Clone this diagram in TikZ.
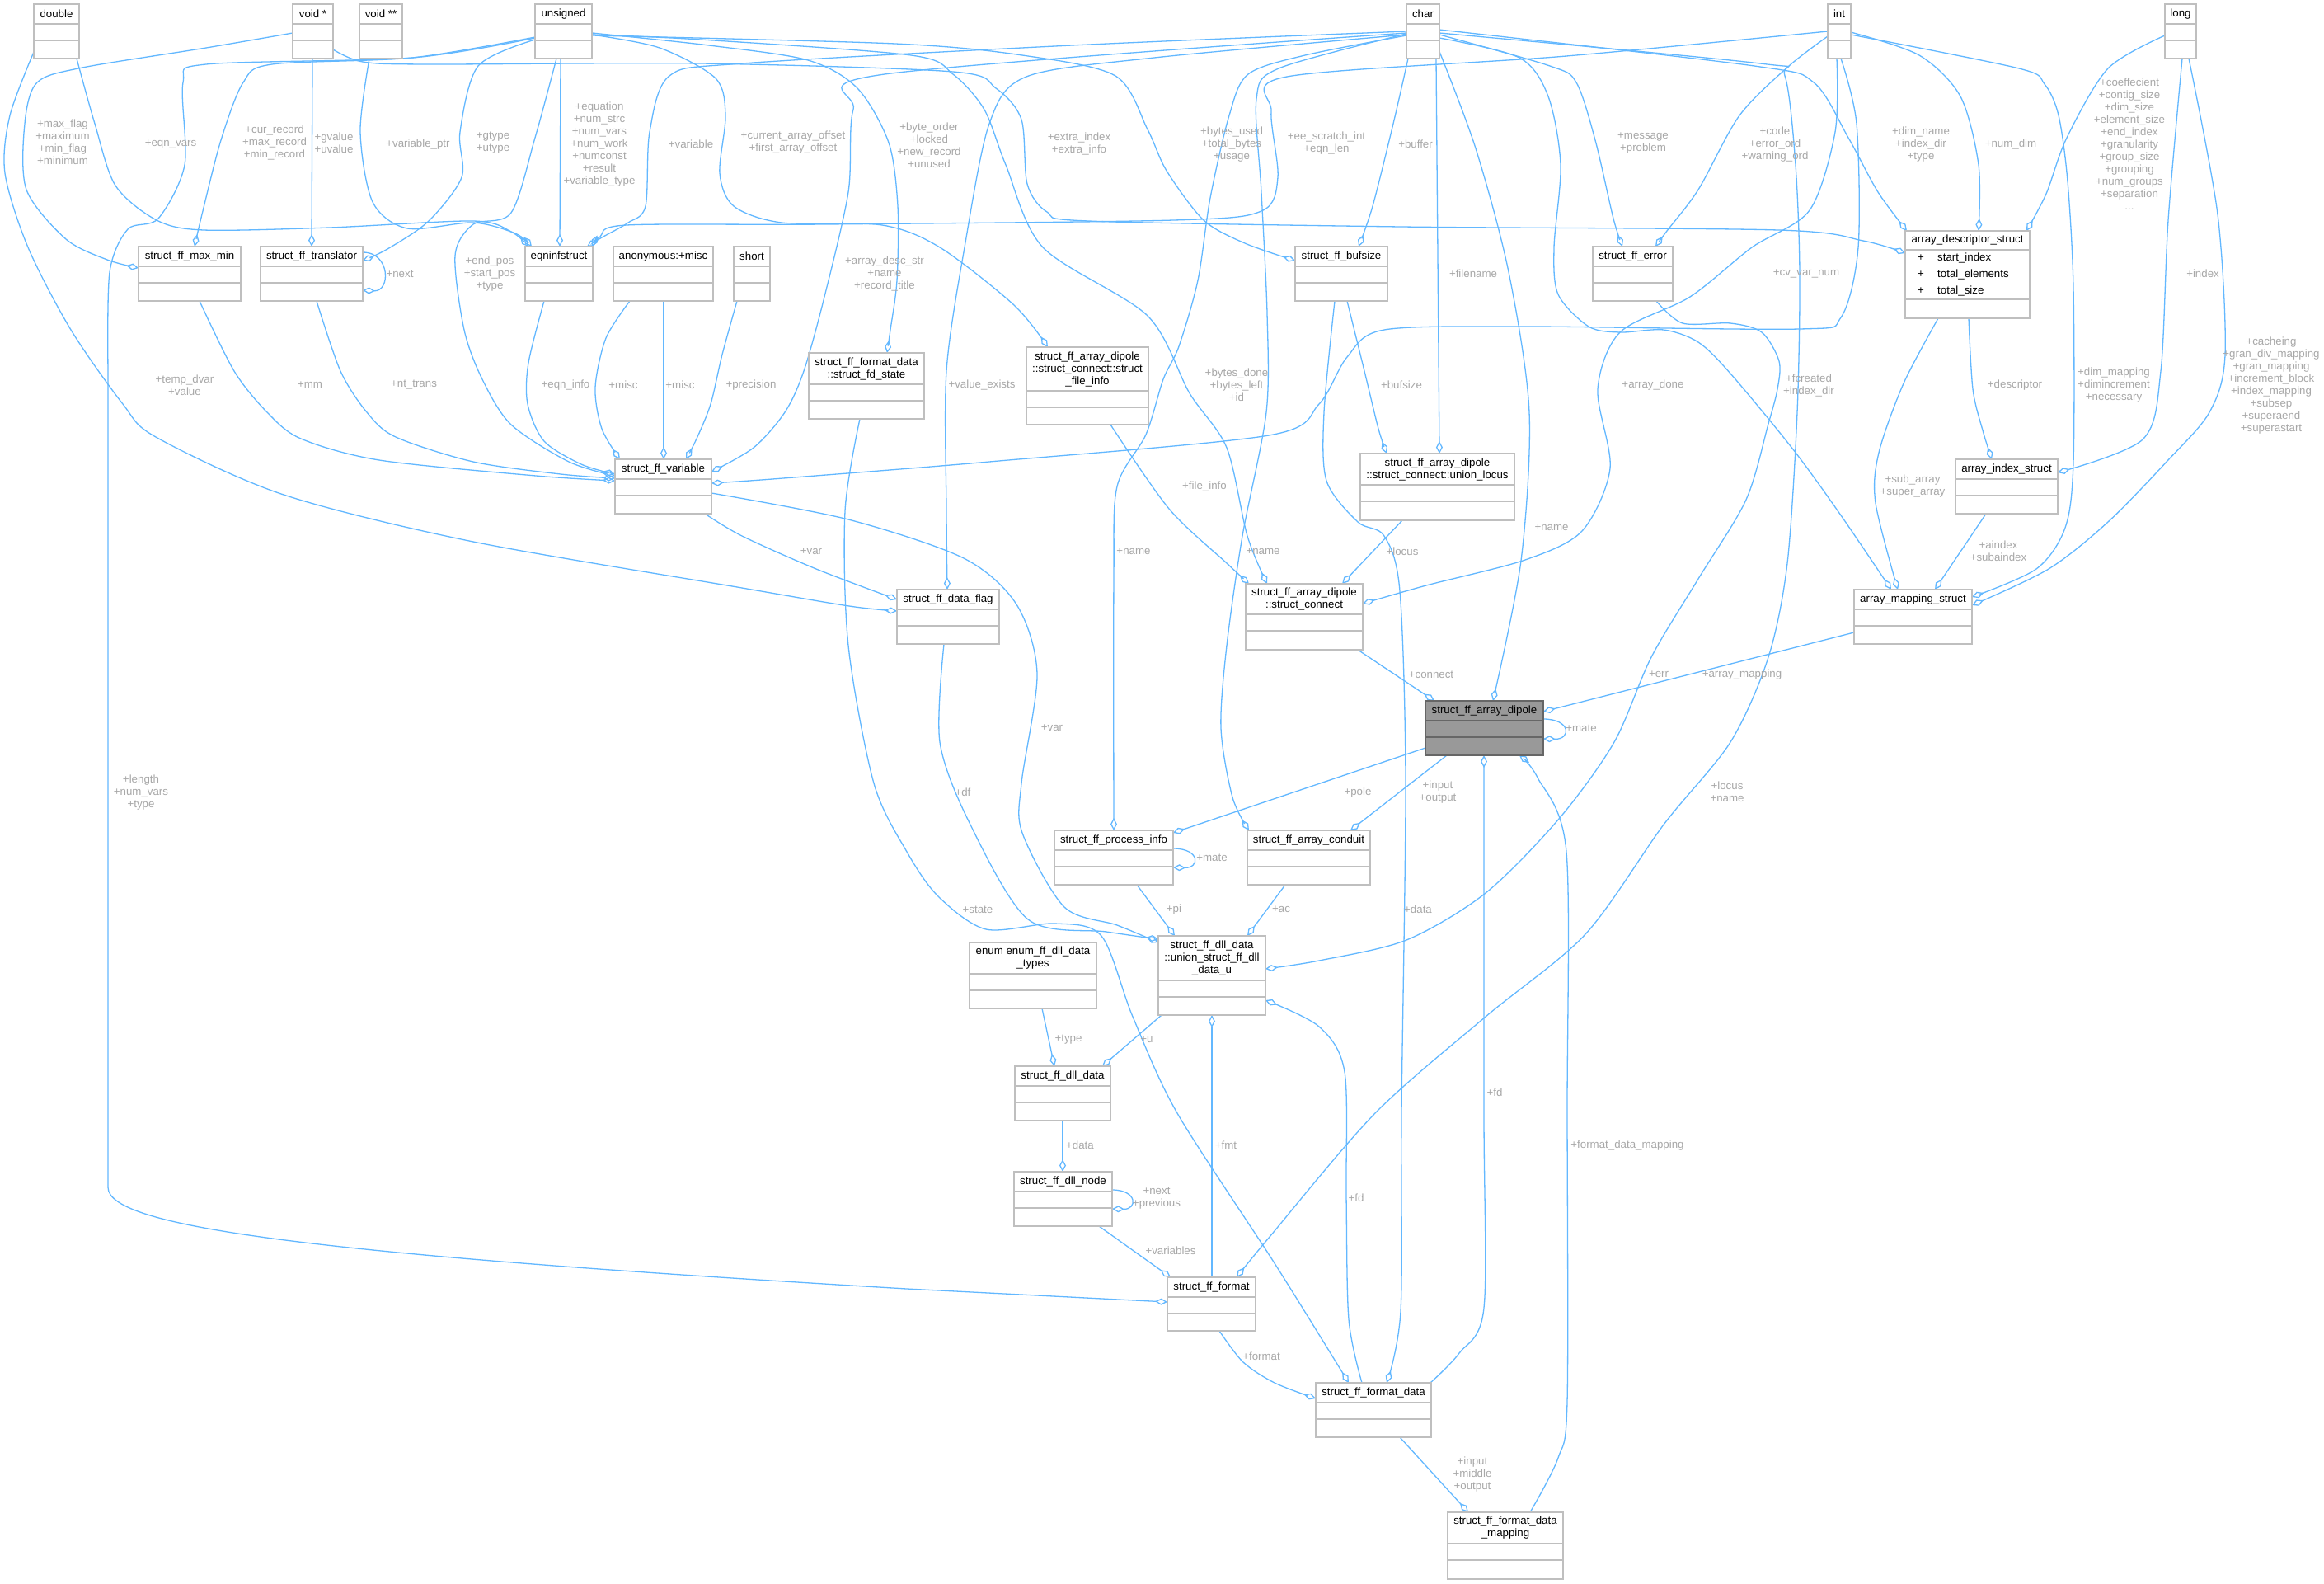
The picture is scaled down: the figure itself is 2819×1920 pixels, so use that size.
\documentclass[tikz,border=0pt]{standalone}
\usepackage{fontspec}
\setmainfont{Liberation Sans}
\usetikzlibrary{arrows.meta}
\definecolor{edgeblue}{HTML}{63B8FF}
\definecolor{boxgray}{HTML}{BFBFBF}
\definecolor{lblgray}{HTML}{A8A8A8}
\definecolor{dipfill}{HTML}{999999}
\definecolor{dipline}{HTML}{666666}
\pgfdeclarelayer{background}
\pgfsetlayers{background,main}
\tikzset{
 cls/.style={draw=boxgray, line width=1.5pt, fill=white, inner sep=0pt, outer sep=0pt, anchor=north west},
 sepline/.style={draw=boxgray, line width=1.5pt},
 ttl/.style={font=\fontsize{13.3}{15}\selectfont, align=center, inner sep=0pt, text=black},
 lbl/.style={font=\fontsize{13.3}{15}\selectfont, align=center, inner sep=0pt, text=lblgray},
 edge/.style={draw=edgeblue, line width=1.3pt, -{Diamond[open,length=15pt,width=8pt]}},
}
% #1 extra style, #2 name, #3 x1, #4 y1, #5 x2, #6 y2, #7 sep1 offset, #8 sep2 offset, #9 title
\newcommand\cbox[9][]{%
 \node[cls,#1,minimum width={(#5-#3)*1pt},minimum height={(#6-#4)*1pt}] (#2) at (#3,#4) {};
 \draw[sepline,#1] (#3,{#4+#7}) -- (#5,{#4+#7});
 \draw[sepline,#1] (#3,{#4+#8}) -- (#5,{#4+#8});
 \node[ttl] (#2-t) at ({(#3+#5)/2},{#4+#7/2}) {#9};
}
\begin{document}
\begin{tikzpicture}[x=1pt,y=-1pt]
\begin{pgfonlayer}{background}
\fill[white] (0,0) rectangle (2819,1920);
\end{pgfonlayer}
\useasboundingbox (0,0) rectangle (2819,1920);

% ---------- classes ----------
\cbox{double}{41}{5}{96}{71}{24}{44}{double}
\cbox{voidp}{355}{5}{404}{71}{24}{44}{void *}
\cbox{voidpp}{436}{5}{488}{71}{24}{44}{void **}
\cbox{unsigned}{649}{5}{718}{71}{24}{44}{unsigned}
\cbox{char}{1706}{5}{1746}{71}{24}{44}{char}
\cbox{int}{2217}{5}{2245}{71}{24}{44}{int}
\cbox{long}{2626}{5}{2664}{71}{24}{44}{long}
\cbox{maxmin}{168}{299}{292}{365}{24}{44}{struct\_ff\_max\_min}
\cbox{translator}{316}{299}{440}{365}{24}{44}{struct\_ff\_translator}
\cbox{eqninf}{637}{299}{719}{365}{24}{44}{eqninfstruct}
\cbox{anon}{744}{299}{865}{365}{24}{44}{anonymous:+misc}
\cbox{short}{890}{299}{934}{365}{24}{44}{short}
\cbox{bufsize}{1571}{299}{1683}{365}{24}{44}{struct\_ff\_bufsize}
\cbox{error}{1932}{299}{2029}{365}{24}{44}{struct\_ff\_error}
\cbox{arrdesc}{2311}{280}{2462}{386}{23}{83}{array\_descriptor\_struct}
\node[ttl,anchor=west] (ad-p1) at (2326,313) {+};
\node[ttl,anchor=west] (ad-a1) at (2350,313) {start\_index};
\node[ttl,anchor=west] (ad-p2) at (2326,333) {+};
\node[ttl,anchor=west] (ad-a2) at (2350,333) {total\_elements};
\node[ttl,anchor=west] (ad-p3) at (2326,353) {+};
\node[ttl,anchor=west] (ad-a3) at (2350,353) {total\_size};
\cbox{fdstate}{981}{428}{1121}{508}{38}{58}{struct\_ff\_format\_data\\::struct\_fd\_state}
\cbox{fileinfo}{1245}{421}{1393}{515}{53}{73}{struct\_ff\_array\_dipole\\::struct\_connect::struct\\\_file\_info}
\cbox{variable}{746}{557}{863}{623}{24}{44}{struct\_ff\_variable}
\cbox{unionlocus}{1650}{550}{1837}{631}{38}{58}{struct\_ff\_array\_dipole\\::struct\_connect::union\_locus}
\cbox{arrindex}{2372}{557}{2496}{623}{24}{44}{array\_index\_struct}
\cbox{dataflag}{1088}{715}{1212}{781}{24}{44}{struct\_ff\_data\_flag}
\cbox{connect}{1511}{708}{1653}{788}{37}{57}{struct\_ff\_array\_dipole\\::struct\_connect}
\cbox{mapping}{2249}{715}{2392}{781}{24}{44}{array\_mapping\_struct}
\cbox[draw=dipline,fill=dipfill]{dipole}{1729}{850}{1872}{916}{24}{44}{struct\_ff\_array\_dipole}
\cbox{procinfo}{1279}{1007}{1423}{1073}{24}{44}{struct\_ff\_process\_info}
\cbox{conduit}{1513}{1007}{1662}{1073}{24}{44}{struct\_ff\_array\_conduit}
\cbox{dllu}{1405}{1135}{1535}{1231}{54}{74}{struct\_ff\_dll\_data\\::union\_struct\_ff\_dll\\\_data\_u}
\cbox{enumtypes}{1176}{1143}{1330}{1223}{38}{58}{enum enum\_ff\_dll\_data\\\_types}
\cbox{dlldata}{1231}{1293}{1347}{1359}{24}{44}{struct\_ff\_dll\_data}
\cbox{dllnode}{1230}{1421}{1349}{1487}{24}{44}{struct\_ff\_dll\_node}
\cbox{format}{1416}{1549}{1523}{1614}{24}{44}{struct\_ff\_format}
\cbox{formatdata}{1596}{1677}{1736}{1743}{24}{44}{struct\_ff\_format\_data}
\cbox{fdmapping}{1756}{1834}{1896}{1915}{38}{58}{struct\_ff\_format\_data\\\_mapping}

% ---------- connectors ----------
\begin{pgfonlayer}{background}
\draw[edge] plot[smooth] coordinates {([shift={(0,35)}]voidp.north west) (250,58) (100,82) (45,100) (30,150) (32,230) (80,290) (130,315) ([shift={(0,26)}]maxmin.north west)};
\draw[edge] plot[smooth] coordinates {([shift={(52,66)}]double.north west) (115,150) (140,225) (190,267) (247,279) (400,276) (574,268) (620,281) ([shift={(4,0)}]eqninf.north west)};
\draw[edge] plot[smooth] coordinates {([shift={(0,40)}]unsigned.north west) (500,70) (330,78) (295,100) (268,170) (245,260) ([shift={(68,0)}]maxmin.north west)};
\draw[edge] ([shift={(24,66)}]voidp.north west) -- ([shift={(62,0)}]translator.north west);
\draw[edge] plot[smooth] coordinates {([shift={(12,66)}]voidpp.north west) (437,160) (452,245) (494,277) (574,270) (625,283) ([shift={(8,0)}]eqninf.north west)};
\draw[edge] plot[smooth] coordinates {([shift={(0,43)}]unsigned.north west) (580,80) (558,160) (560,215) (520,268) (470,302) ([shift={(124,17)}]translator.north west)};
\draw[edge] ([shift={(124,7)}]translator.north west) .. controls (474,306) and (474,354) .. ([shift={(124,53)}]translator.north west);
\draw[edge] ([shift={(31,66)}]unsigned.north west) -- ([shift={(42,0)}]eqninf.north west);
\draw[edge] plot[smooth] coordinates {([shift={(0,33)}]char.north west) (1300,55) (900,77) (812,92) (788,160) (783,250) (762,270) (730,288) ([shift={(75,0)}]eqninf.north west)};
\draw[edge] plot[smooth] coordinates {([shift={(0,33)}]int.north west) (1900,68) (1561,93) (1542,135) (1550,215) (1530,256) (1424,267) (1000,272) (760,273) (728,287) ([shift={(81,0)}]eqninf.north west)};
\draw[edge] plot[smooth] coordinates {([shift={(69,37)}]unsigned.north west) (800,58) (868,95) (880,140) (873,210) (890,250) (948,270) (1070,273) (1140,300) (1230,370) ([shift={(26,0)}]fileinfo.north west)};
\draw[edge] plot[smooth] coordinates {([shift={(69,35)}]unsigned.north west) (860,55) (980,73) (1040,107) (1078,173) (1089,250) (1088,340) (1080,400) ([shift={(95,0)}]fdstate.north west)};
\draw[edge] plot[smooth] coordinates {([shift={(49,55)}]voidp.north west) (440,75) (520,78) (850,77) (1156,87) (1208,107) (1239,145) (1246,223) (1270,257) (1320,268) (1700,275) (2157,279) (2260,292) ([shift={(0,27)}]arrdesc.north west)};
\draw[edge] plot[smooth] coordinates {([shift={(69,38)}]unsigned.north west) (1086,53) (1240,67) (1353,92) (1392,157) (1415,207) (1460,267) (1510,295) ([shift={(0,17)}]bufsize.north west)};
\draw[edge] plot[smooth] coordinates {([shift={(2,66)}]char.north west) (1690,150) (1665,250) ([shift={(77,0)}]bufsize.north west)};
\draw[edge] plot[smooth] coordinates {([shift={(40,37)}]char.north west) (1880,80) (1912,100) (1935,170) (1957,265) ([shift={(36,0)}]error.north west)};
\draw[edge] plot[smooth] coordinates {([shift={(0,39)}]int.north west) (2170,80) (2110,140) (2060,230) (2022,280) ([shift={(76,0)}]error.north west)};
\draw[edge] plot[smooth] coordinates {([shift={(40,31)}]char.north west) (2128,80) (2200,100) (2242,167) (2278,233) ([shift={(2,0)}]arrdesc.north west)};
\draw[edge] plot[smooth] coordinates {([shift={(28,34)}]int.north west) (2328,67) (2378,117) (2400,200) ([shift={(89,0)}]arrdesc.north west)};
\draw[edge] plot[smooth] coordinates {([shift={(0,38)}]long.north west) (2557,83) (2507,167) (2482,235) ([shift={(147,0)}]arrdesc.north west)};
\draw[edge] plot[smooth] coordinates {([shift={(0,58)}]double.north west) (12,140) (6,210) (34,300) (86,400) (149,490) (189,530) (344,600) (574,657) (900,713) (1030,735) ([shift={(0,26)}]dataflag.north west)};
\draw[edge] plot[smooth] coordinates {([shift={(0,41)}]unsigned.north west) (500,70) (250,78) (222,100) (224,200) (192,265) (155,278) (133,330) (131,450)} -- (131,1440) .. controls (131,1490) and (400,1522) .. (1100,1563) -- ([shift={(0,30)}]format.north west);
\draw[edge] plot[smooth] coordinates {([shift={(74,66)}]maxmin.north west) (284,450) (324,500) (365,532) (460,558) (650,577) ([shift={(0,26)}]variable.north west)};
\draw[edge] plot[smooth] coordinates {([shift={(68,66)}]translator.north west) (413,450) (445,500) (480,530) (574,560) (680,575) ([shift={(0,23)}]variable.north west)};
\draw[edge] plot[smooth] coordinates {([shift={(26,66)}]unsigned.north west) (649,167) (620,258) (574,272) (552,310) (563,400) (585,460) (620,515) (690,560) ([shift={(0,20)}]variable.north west)};
\draw[edge] plot[smooth] coordinates {([shift={(23,66)}]eqninf.north west) (641,440) (640,490) (660,535) (705,563) ([shift={(0,18)}]variable.north west)};
\draw[edge] plot[smooth] coordinates {([shift={(20,66)}]anon.north west) (735,410) (722,470) (730,520) ([shift={(6,0)}]variable.north west)};
\draw[edge] ([shift={(61,66)}]anon.north west) -- ([shift={(59,0)}]variable.north west);
\draw[edge] plot[smooth] coordinates {([shift={(4,66)}]short.north west) (876,430) (862,490) (845,532) ([shift={(86,0)}]variable.north west)};
\draw[edge] plot[smooth] coordinates {([shift={(0,35)}]char.north west) (1073,90) (1035,133) (1029,233) (1000,360) (975,450) (952,500) (914,543) ([shift={(117,15)}]variable.north west)};
\draw[edge] plot[smooth] coordinates {([shift={(16,66)}]int.north west) (2252,150) (2254,300) (2233,385) (2183,399) (1850,396) (1679,400) (1634,433) (1600,490) (1539,528) (1200,560) (950,580) ([shift={(117,29)}]variable.north west)};
\draw[edge] plot[smooth] coordinates {([shift={(0,37)}]char.north west) (1400,70) (1245,93) (1200,150) (1170,300) (1148,450) (1148,620) ([shift={(61,0)}]dataflag.north west)};
\draw[edge] plot[smooth] coordinates {([shift={(69,37)}]unsigned.north west) (850,48) (1105,67) (1156,90) (1194,133) (1220,200) (1265,300) (1392,383) (1443,477) (1488,543) (1513,650) ([shift={(26,0)}]connect.north west)};
\draw[edge] plot[smooth] coordinates {([shift={(63,66)}]bufsize.north west) (1655,450) (1672,520) ([shift={(32,0)}]unionlocus.north west)};
\draw[edge] ([shift={(36,66)}]char.north west) -- ([shift={(96,0)}]unionlocus.north west);
\draw[edge] plot[smooth] coordinates {([shift={(11,66)}]int.north west) (2226,160) (2195,255) (2125,300) (2050,360) (1965,403) (1938,472) (1953,568) (1919,644) (1850,679) (1730,710) ([shift={(142,24)}]connect.north west)};
\draw[edge] plot[smooth] coordinates {([shift={(40,41)}]char.north west) (1843,70) (1878,117) (1893,200) (1885,300) (1890,357) (1927,396) (1965,403) (2018,400) (2060,415) (2099,453) (2175,545) (2233,625) ([shift={(45,0)}]mapping.north west)};
\draw[edge] plot[smooth] coordinates {([shift={(21,66)}]long.north west) (2630,267) (2621,450) (2599,533) ([shift={(124,16)}]arrindex.north west)};
\draw[edge] plot[smooth] coordinates {([shift={(77,106)}]arrdesc.north west) (2393,472) (2405,522) ([shift={(44,0)}]arrindex.north west)};
\draw[edge] plot[smooth] coordinates {([shift={(28,37)}]int.north west) (2449,83) (2480,102) (2497,140) (2508,220) (2515,350) (2515,560) (2505,640) (2470,690) ([shift={(143,9)}]mapping.north west)};
\draw[edge] plot[smooth] coordinates {([shift={(29,66)}]long.north west) (2690,260) (2699,430) (2680,500) (2628,560) (2557,633) (2485,690) ([shift={(143,19)}]mapping.north west)};
\draw[edge] plot[smooth] coordinates {([shift={(40,106)}]arrdesc.north west) (2309,465) (2279,549) (2275,610) ([shift={(53,0)}]mapping.north west)};
\draw[edge] ([shift={(37,66)}]arrindex.north west) -- ([shift={(98,0)}]mapping.north west);
\draw[edge] plot[smooth] coordinates {([shift={(102,94)}]fileinfo.north west) (1418,617) (1488,683) ([shift={(4,0)}]connect.north west)};
\draw[edge] ([shift={(51,81)}]unionlocus.north west) -- ([shift={(117,0)}]connect.north west);
\draw[edge] plot[smooth] coordinates {([shift={(109,66)}]variable.north west) (900,650) (990,690) ([shift={(0,12)}]dataflag.north west)};
\draw[edge] ([shift={(136,80)}]connect.north west) -- ([shift={(11,0)}]dipole.north west);
\draw[edge] plot[smooth] coordinates {([shift={(39,55)}]char.north west) (1790,180) (1830,330) (1855,500) (1845,680) ([shift={(82,0)}]dipole.north west)};
\draw[edge] ([shift={(0,52)}]mapping.north west) -- ([shift={(143,13)}]dipole.north west);
\draw[edge] ([shift={(143,22)}]dipole.north west) .. controls (1906,872) and (1906,897) .. ([shift={(143,46)}]dipole.north west);
\draw[edge] plot[smooth] coordinates {([shift={(77,66)}]error.north west) (2041,392) (2099,392) (2137,403) (2158,438) (2156,472) (2145,514) (2118,606) (2060,702) (2003,797) (1958,900) (1891,993) (1802,1083) (1706,1140) (1600,1165) ([shift={(130,40)}]dllu.north west)};
\draw[edge] plot[smooth] coordinates {([shift={(40,35)}]char.north west) (2135,77) (2165,92) (2178,200) (2183,333) (2180,500) (2168,683) (2145,797) (2099,900) (2018,1000) (1923,1133) (1802,1233) (1668,1350) (1540,1500) ([shift={(84,0)}]format.north west)};
\draw[edge] ([shift={(0,57)}]dipole.north west) -- ([shift={(144,3)}]procinfo.north west);
\draw[edge] ([shift={(26,66)}]dipole.north west) -- ([shift={(125,0)}]conduit.north west);
\draw[edge] plot[smooth] coordinates {([shift={(0,38)}]char.north west) (1583,67) (1514,90) (1491,140) (1468,240) (1453,340) (1430,420) (1411,460) (1390,527) (1355,590) (1351,700) ([shift={(72,0)}]procinfo.north west)};
\draw[edge] plot[smooth] coordinates {([shift={(0,36)}]char.north west) (1551,83) (1524,120) (1530,233) (1537,380) (1536,500) (1507,650) (1488,783) (1481,883) (1495,967) ([shift={(2,0)}]conduit.north west)};
\draw[edge] ([shift={(144,22)}]procinfo.north west) .. controls (1456,1029) and (1456,1053) .. ([shift={(144,45)}]procinfo.north west);
\draw[edge] ([shift={(100,66)}]procinfo.north west) -- ([shift={(20,0)}]dllu.north west);
\draw[edge] ([shift={(46,66)}]conduit.north west) -- ([shift={(108,0)}]dllu.north west);
\draw[edge] plot[smooth] coordinates {([shift={(117,41)}]variable.north west) (1029,630) (1169,677) (1233,733) (1258,817) (1239,950) (1240,1010) (1291,1100) (1355,1122) ([shift={(0,8)}]dllu.north west)};
\draw[edge] plot[smooth] coordinates {([shift={(57,66)}]dataflag.north west) (1140,900) (1177,1000) (1247,1115) (1342,1130) ([shift={(0,4)}]dllu.north west)};
\draw[edge] plot[smooth] coordinates {([shift={(62,80)}]fdstate.north west) (1025,620) (1029,783) (1060,950) (1100,1033) (1138,1087) (1196,1127) (1279,1120) (1336,1135) (1374,1233) (1428,1350) (1546,1532) ([shift={(40,0)}]formatdata.north west)};
\draw[edge] plot[smooth] coordinates {([shift={(48,66)}]bufsize.north west) (1606,500) (1609,583) (1647,633) (1679,650) (1698,717) (1705,950) (1700,1350) (1699,1590) ([shift={(86,0)}]formatdata.north west)};
\draw[edge] plot[smooth] coordinates {([shift={(139,0)}]formatdata.north west) (1770,1641) (1800,1586) (1800,1350) ([shift={(71,66)}]dipole.north west)};
\draw[edge] plot[smooth] coordinates {([shift={(100,0)}]fdmapping.north west) (1890,1768) (1901,1700) (1901,1350) (1900,1033) (1865,943) ([shift={(114,66)}]dipole.north west)};
\draw[edge] ([shift={(102,66)}]formatdata.north west) -- ([shift={(25,0)}]fdmapping.north west);
\draw[edge] plot[smooth] coordinates {([shift={(63,65)}]format.north west) (1508,1652) (1546,1677) ([shift={(0,19)}]formatdata.north west)};
\draw[edge] ([shift={(103,66)}]dllnode.north west) -- ([shift={(4,0)}]format.north west);
\draw[edge] ([shift={(119,22)}]dllnode.north west) .. controls (1380,1443) and (1380,1467) .. ([shift={(119,45)}]dllnode.north west);
\draw[edge] ([shift={(58,66)}]dlldata.north west) -- ([shift={(59,0)}]dllnode.north west);
\draw[edge] ([shift={(88,80)}]enumtypes.north west) -- ([shift={(48,0)}]dlldata.north west);
\draw[edge] ([shift={(4,96)}]dllu.north west) -- ([shift={(106,0)}]dlldata.north west);
\draw[edge] ([shift={(54,0)}]format.north west) -- ([shift={(65,96)}]dllu.north west);
\draw[edge] plot[smooth] coordinates {([shift={(56,0)}]formatdata.north west) (1636,1600) (1633,1450) (1631,1300) (1600,1245) ([shift={(130,78)}]dllu.north west)};
\end{pgfonlayer}

% ---------- labels ----------
\node[lbl] (l1) at (76,172) {+max\_flag\\+maximum\\+min\_flag\\+minimum};
\node[lbl] (l2) at (207,175) {+eqn\_vars};
\node[lbl] (l3) at (333,173) {+cur\_record\\+max\_record\\+min\_record};
\node[lbl] (l4) at (405,173) {+gvalue\\+uvalue};
\node[lbl] (l5) at (507,175) {+variable\_ptr};
\node[lbl] (l6) at (598,173) {+gtype\\+utype};
\node[lbl] (l7) at (485,332) {+next};
\node[lbl] (l8) at (727,175) {+equation\\+num\_strc\\+num\_vars\\+num\_work\\+numconst\\+result\\+variable\_type};
\node[lbl] (l9) at (838,175) {+variable};
\node[lbl] (l10) at (962,173) {+current\_array\_offset\\+first\_array\_offset};
\node[lbl] (l11) at (1127,176) {+byte\_order\\+locked\\+new\_record\\+unused};
\node[lbl] (l12) at (1309,174) {+extra\_index\\+extra\_info};
\node[lbl] (l13) at (1494,175) {+bytes\_used\\+total\_bytes\\+usage};
\node[lbl] (l14) at (1609,174) {+ee\_scratch\_int\\+eqn\_len};
\node[lbl] (l15) at (1717,175) {+buffer};
\node[lbl] (l16) at (1993,174) {+message\\+problem};
\node[lbl] (l17) at (2153,175) {+code\\+error\_ord\\+warning\_ord};
\node[lbl] (l18) at (2330,175) {+dim\_name\\+index\_dir\\+type};
\node[lbl] (l19) at (2439,175) {+num\_dim};
\node[lbl] (l20) at (2583,175) {+coeffecient\\+contig\_size\\+dim\_size\\+element\_size\\+end\_index\\+granularity\\+group\_size\\+grouping\\+num\_groups\\+separation\\...};
\node[lbl] (l21) at (224,467) {+temp\_dvar\\+value};
\node[lbl] (l22) at (376,467) {+mm};
\node[lbl] (l23) at (502,467) {+nt\_trans};
\node[lbl] (l24) at (594,332) {+end\_pos\\+start\_pos\\+type};
\node[lbl] (l25) at (686,467) {+eqn\_info};
\node[lbl] (l26) at (756,467) {+misc};
\node[lbl] (l27) at (825,467) {+misc};
\node[lbl] (l28) at (911,467) {+precision};
\node[lbl] (l29) at (1073,332) {+array\_desc\_str\\+name\\+record\_title};
\node[lbl] (l30) at (1191,467) {+value\_exists};
\node[lbl] (l31) at (1500,467) {+bytes\_done\\+bytes\_left\\+id};
\node[lbl] (l32) at (1700,467) {+bufsize};
\node[lbl] (l33) at (1787,332) {+filename};
\node[lbl] (l34) at (2005,467) {+array\_done};
\node[lbl] (l35) at (2194,467) {+fcreated\\+index\_dir};
\node[lbl] (l36) at (2191,332) {+cv\_var\_num};
\node[lbl] (l37) at (2672,332) {+index};
\node[lbl] (l38) at (2444,467) {+descriptor};
\node[lbl] (l39) at (2564,467) {+dim\_mapping\\+dimincrement\\+necessary};
\node[lbl] (l40) at (2755,468) {+cacheing\\+gran\_div\_mapping\\+gran\_mapping\\+increment\_block\\+index\_mapping\\+subsep\\+superaend\\+superastart};
\node[lbl] (l41) at (2320,590) {+sub\_array\\+super\_array};
\node[lbl] (l42) at (2424,668) {+aindex\\+subaindex};
\node[lbl] (l43) at (1461,590) {+file\_info};
\node[lbl] (l44) at (1701,669) {+locus};
\node[lbl] (l45) at (1375,669) {+name};
\node[lbl] (l46) at (1532,669) {+name};
\node[lbl] (l47) at (1882,640) {+name};
\node[lbl] (l48) at (984,669) {+var};
\node[lbl] (l49) at (1736,818) {+connect};
\node[lbl] (l50) at (2113,818) {+array\_mapping};
\node[lbl] (l51) at (2012,818) {+err};
\node[lbl] (l52) at (1918,883) {+mate};
\node[lbl] (l53) at (2095,960) {+locus\\+name};
\node[lbl] (l54) at (1647,961) {+pole};
\node[lbl] (l55) at (1744,961) {+input\\+output};
\node[lbl] (l56) at (1168,961) {+df};
\node[lbl] (l57) at (1276,883) {+var};
\node[lbl] (l58) at (1470,1040) {+mate};
\node[lbl] (l59) at (1186,1103) {+state};
\node[lbl] (l60) at (1424,1103) {+pi};
\node[lbl] (l61) at (1554,1103) {+ac};
\node[lbl] (l62) at (1720,1103) {+data};
\node[lbl] (l63) at (1296,1261) {+type};
\node[lbl] (l64) at (1391,1261) {+u};
\node[lbl] (l65) at (1813,1325) {+fd};
\node[lbl] (l66) at (1310,1389) {+data};
\node[lbl] (l67) at (1487,1389) {+fmt};
\node[lbl] (l68) at (1974,1389) {+format\_data\_mapping};
\node[lbl] (l69) at (1403,1453) {+next\\+previous};
\node[lbl] (l70) at (1645,1453) {+fd};
\node[lbl] (l71) at (1420,1517) {+variables};
\node[lbl] (l72) at (1530,1645) {+format};
\node[lbl] (l73) at (1786,1788) {+input\\+middle\\+output};
\node[lbl] (l74) at (171,961) {+length\\+num\_vars\\+type};
\end{tikzpicture}
\end{document}
